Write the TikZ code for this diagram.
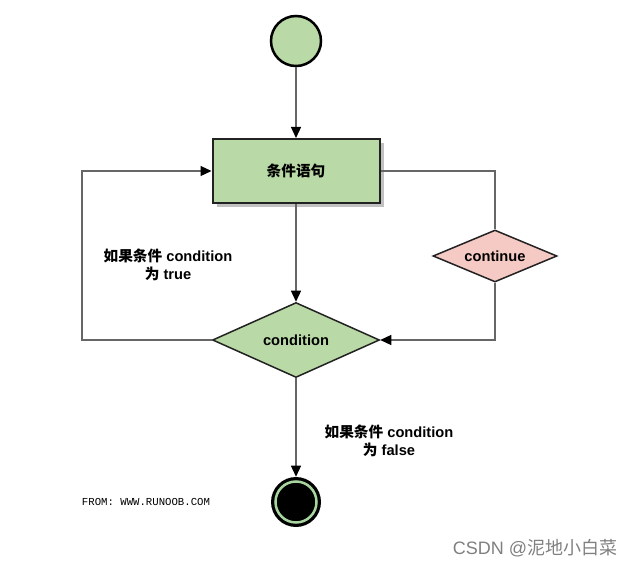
\documentclass[tikz,border=0pt]{standalone}
\usepackage{fontspec}
\setmainfont{Liberation Sans}
\newfontfamily\cjk{Noto Sans CJK SC}
\newfontfamily\cjkmono{Liberation Mono}
\usepackage{tikz}
\usetikzlibrary{arrows.meta, shapes.geometric, shadows}
\definecolor{flowG}{RGB}{185,217,166}
\definecolor{flowR}{RGB}{168,213,160}
\definecolor{flowP}{RGB}{245,201,196}
\definecolor{flowL}{RGB}{102,102,102}
\definecolor{flowK}{RGB}{34,34,34}
\newdimen\px \px=0.75pt
\tikzset{
  link/.style={draw=flowL, line width=1.2\px},
  arrowhd/.style={-{Triangle[length=8.25pt, width=7.5pt, color=black]}},
  stmtbox/.style={rectangle, draw=flowK, line width=2\px, fill=flowG,
    minimum width=167\px, minimum height=64\px, inner sep=0pt,
    drop shadow={shadow xshift=4\px, shadow yshift=-4\px, fill=black!40, opacity=0.6},
    font=\cjk\bfseries\fontsize{11}{12}\selectfont},
  decide/.style={diamond, draw=flowK, line width=1.5\px, inner sep=0pt, aspect=2.4,
    font=\bfseries\fontsize{11}{12}\selectfont},
  note/.style={align=center, font=\bfseries\fontsize{11}{13.5}\selectfont}
}
\begin{document}
\begin{tikzpicture}[x=1\px, y=-1\px]
\useasboundingbox[fill=white] (0,0) rectangle (636,567);
% start and statement
\node[circle, draw=black, line width=2.5\px, fill=flowG, minimum size=50\px, inner sep=0pt] (start) at (296,41) {};
\node[stmtbox] (stmt) at (296,171) {条件语句};
% decisions
\node[decide, fill=flowG, minimum width=167\px, minimum height=75\px] (cond) at (296,340) {condition};
\node[decide, fill=flowP, minimum width=124\px, minimum height=52\px] (cont) at (495,256) {continue};
% end node
\node[circle, fill=black, minimum size=50\px, inner sep=0pt] (stop) at (296,502) {};
\draw[flowR, line width=2.5\px] (stop) circle (20.5\px);
% connectors
\draw[link, arrowhd] (start) -- (stmt);
\draw[link, arrowhd] (stmt) -- (cond);
\draw[link] (stmt.east) -| (cont.north);
\draw[link, arrowhd] (cont.south) |- (cond.east);
\coordinate (loopL) at (82,340);
\draw[link, arrowhd] (cond.west) -- (loopL) |- (stmt.west);
\draw[link, arrowhd] (cond) -- (stop);
% labels
\node[note] (lblT) at (168,265) {{\cjk 如果条件} condition\\{\cjk 为} true};
\node[note] (lblF) at (389,441) {{\cjk 如果条件} condition\\{\cjk 为} false};
\node[font=\cjkmono\fontsize{8}{9}\selectfont] (src) at (146,502) {FROM: WWW.RUNOOB.COM};
\node[text=black!50, font=\fontsize{13.5}{15}\selectfont] (mark) at (535,548) {CSDN @{\cjk 泥地小白菜}};
\end{tikzpicture}
\end{document}
